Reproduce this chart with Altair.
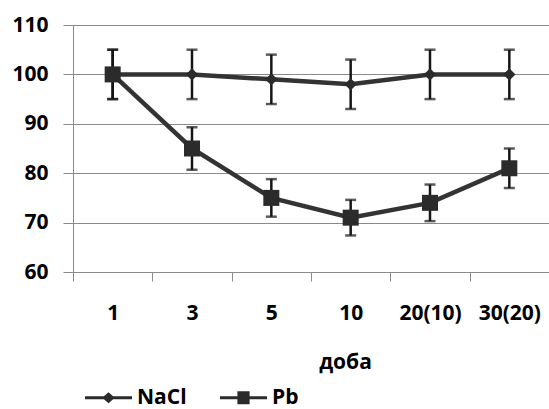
import altair as alt
import pandas as pd

days = ["1", "3", "5", "10", "20(10)", "30(20)"]
series_names = ["NaCl", "Pb"]
nacl_values = [100, 100, 99, 98, 100, 100]
nacl_errors = [5, 5, 5, 5, 5, 5]
pb_values = [100, 85, 75, 71, 74, 81]
pb_errors = [5, 4.3, 3.8, 3.6, 3.7, 4.0]

rows = []
for name, vals, errs in [("NaCl", nacl_values, nacl_errors), ("Pb", pb_values, pb_errors)]:
    for d, v, e in zip(days, vals, errs):
        rows.append({"day": d, "series": name, "value": v, "lo": v - e, "hi": v + e})
df = pd.DataFrame(rows)
legend_df = pd.DataFrame({"legend_series": series_names, "day": ["1", "1"], "value": [100, 100]})

FONT = "Open Sans"

x_enc = alt.X(
    "day:N",
    sort=days,
    scale=alt.Scale(domain=days, paddingInner=0, paddingOuter=0),
    axis=alt.Axis(
        title="доба",
        tickBand="extent",
        tickSize=9,
        tickColor="#8a8a8a",
        domainColor="#8a8a8a",
        labelAngle=0,
        labelPadding=38,
        labelBaseline="alphabetic",
        titleX=272,
        titleY=96,
        titleAlign="center",
        titleBaseline="alphabetic",
        grid=False,
    ),
)
y_scale = alt.Scale(domain=[60, 110], nice=False, zero=False)
y_enc = alt.Y(
    "value:Q",
    scale=y_scale,
    axis=alt.Axis(
        title=None,
        values=[60, 70, 80, 90, 100, 110],
        tickSize=10,
        tickColor="#8a8a8a",
        domainColor="#8a8a8a",
        gridColor="#8a8a8a",
        labelPadding=15,
    ),
)

base = alt.Chart(df)

err_rules = base.mark_rule(color="#151515", strokeWidth=2.5).encode(
    x=x_enc, y=alt.Y("lo:Q", scale=y_scale), y2="hi:Q"
)
cap_lo = base.mark_tick(color="#151515", thickness=2.5, size=11).encode(
    x=x_enc, y=alt.Y("lo:Q", scale=y_scale)
)
cap_hi = base.mark_tick(color="#151515", thickness=2.5, size=11).encode(
    x=x_enc, y=alt.Y("hi:Q", scale=y_scale)
)

lines = base.mark_line(color="#333333", strokeWidth=4.5).encode(
    x=x_enc, y=y_enc, detail="series:N"
)

points = base.mark_point(filled=True, opacity=1, color="#2b2b2b").encode(
    x=x_enc,
    y=y_enc,
    shape=alt.Shape("series:N", scale=alt.Scale(domain=series_names, range=["diamond", "square"]), legend=None),
    size=alt.Size("series:N", scale=alt.Scale(domain=series_names, range=[150, 256]), legend=None),
)

legend_paths = [
    "M-1,-0.066L1,-0.066L1,0.066L-1,0.066Z M-0.27,0L0,-0.23L0.27,0L0,0.23Z",
    "M-1,-0.066L1,-0.066L1,0.066L-1,0.066Z M-0.26,-0.28L0.26,-0.28L0.26,0.28L-0.26,0.28Z",
]
legend_layer = alt.Chart(legend_df).mark_point(
    filled=True, opacity=0, color="#2b2b2b"
).encode(
    x=x_enc,
    y=y_enc,
    shape=alt.Shape(
        "legend_series:N",
        scale=alt.Scale(domain=series_names, range=legend_paths),
        legend=alt.Legend(
            title=None,
            orient="none",
            direction="horizontal",
            legendX=12,
            legendY=349,
            symbolSize=2209,
            symbolOpacity=1,
            symbolFillColor="#2b2b2b",
            symbolStrokeWidth=0,
            labelOffset=5,
            columnPadding=33,
            labelFont=FONT,
            labelFontSize=21,
            labelFontWeight="bold",
            labelColor="#000000",
        ),
    ),
)

chart = (
    alt.layer(err_rules, cap_lo, cap_hi, lines, points, legend_layer)
    .resolve_scale(shape="independent", size="independent")
    .properties(
        width=476,
        height=247,
        autosize=alt.AutoSizeParams(type="none"),
        padding={"left": 73, "top": 25, "right": 0, "bottom": 137},
    )
    .configure_view(stroke=None)
    .configure_axis(
        labelFont=FONT,
        labelFontSize=21,
        labelFontWeight="bold",
        labelColor="#000000",
        titleFont=FONT,
        titleFontSize=21,
        titleFontWeight="bold",
        titleColor="#000000",
        gridWidth=1,
        domainWidth=1,
        tickWidth=1,
    )
)

chart.save("out.html", embed_options={"renderer": "svg", "actions": False})
